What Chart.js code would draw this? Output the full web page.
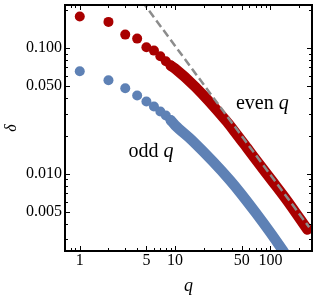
<!DOCTYPE html>
<html>
<head>
<meta charset="utf-8">
<script src="https://cdn.jsdelivr.net/npm/chart.js@4/dist/chart.umd.min.js"></script>
<style>
html,body{margin:0;padding:0;background:#fff;}
#wrap{width:317px;height:298px;position:relative;}
canvas{display:block;}
</style>
</head>
<body>
<div id="wrap"><canvas id="c" width="317" height="298"></canvas></div>
<script>
// ---- data ----
const qDots = [1, 2, 3, 4, 5, 6, 7, 8, 9];
const evenDots = [0.178, 0.161, 0.1276, 0.1186, 0.1013, 0.0952, 0.0859, 0.0784, 0.0724];
const oddDots = [0.0652, 0.0553, 0.0478, 0.0418, 0.0375, 0.0342, 0.0312, 0.0290, 0.0266];

const qEvenBand = [9, 10, 16.4, 34, 41, 57, 70, 104, 150, 244];
const evenBand = [0.0724, 0.0685, 0.0488, 0.0265, 0.0222, 0.0160, 0.0130, 0.0088, 0.0061, 0.0036];

const qOddBand = [9, 10, 15.2, 38, 70, 135, 160];
const oddBand = [0.0266, 0.0243, 0.0183, 0.0088, 0.0049, 0.00245, 0.0020];

const qGuide = [4.5, 255];
const guide = [0.2354, 0.00375];

const xMajor = [1, 5, 10, 50, 100];
const xLabels = ['1', '5', '10', '50', '100'];
const xMinor = [0.8, 0.9, 2, 3, 4, 6, 7, 8, 9, 20, 30, 40, 60, 70, 80, 90, 200];
const yMajor = [0.005, 0.01, 0.05, 0.1];
const yLabels = ['0.005', '0.010', '0.050', '0.100'];
const yMinor = [0.003, 0.004, 0.006, 0.007, 0.008, 0.009, 0.02, 0.03, 0.04, 0.06, 0.07, 0.08, 0.09, 0.2];

const xTitle = 'q';
const yTitle = 'δ';
const labelEven = ['even ', 'q'];
const labelOdd = ['odd ', 'q'];
const labelEvenAt = [43.5, 0.0328];
const labelOddAt = [3.25, 0.0137];

const RED = '#a90000';
const BLUE = '#5e81b5';
const SERIF = '"Liberation Serif", "DejaVu Serif", serif';

const pts = (xs, ys) => xs.map((x, i) => ({x: x, y: ys[i]}));

const framePlugin = {
  id: 'frame',
  afterDraw(chart) {
    const ctx = chart.ctx;
    const a = chart.chartArea;
    const xs = chart.scales.x, ys = chart.scales.y;
    ctx.save();
    ctx.strokeStyle = '#000';
    ctx.lineWidth = 1;
    const tick = (vals, len) => {
      vals.forEach(v => {
        const px = Math.round(xs.getPixelForValue(v)) + 0.5;
        ctx.beginPath();
        ctx.moveTo(px, a.bottom); ctx.lineTo(px, a.bottom - len);
        ctx.moveTo(px, a.top); ctx.lineTo(px, a.top + len);
        ctx.stroke();
      });
    };
    const tickY = (vals, len) => {
      vals.forEach(v => {
        const py = Math.round(ys.getPixelForValue(v)) + 0.5;
        ctx.beginPath();
        ctx.moveTo(a.left, py); ctx.lineTo(a.left + len, py);
        ctx.moveTo(a.right, py); ctx.lineTo(a.right - len, py);
        ctx.stroke();
      });
    };
    tick(xMajor, 5); tick(xMinor, 3);
    tickY(yMajor, 5); tickY(yMinor, 3);
    ctx.lineWidth = 2;
    ctx.strokeRect(a.left, a.top, a.right - a.left, a.bottom - a.top);

    // axis titles
    ctx.fillStyle = '#000';
    ctx.font = 'italic 18px ' + SERIF;
    ctx.textAlign = 'center';
    ctx.textBaseline = 'alphabetic';
    ctx.fillText(xTitle, (a.left + a.right) / 2, 291);
    ctx.save();
    ctx.translate(16, (a.top + a.bottom) / 2);
    ctx.rotate(-Math.PI / 2);
    ctx.font = 'italic 16px ' + SERIF;
    ctx.fillText(yTitle, 0, 0);
    ctx.restore();

    // in-plot labels
    const drawLabel = (parts, at) => {
      let x = xs.getPixelForValue(at[0]);
      const y = ys.getPixelForValue(at[1]);
      ctx.textAlign = 'left';
      ctx.font = '20px ' + SERIF;
      ctx.fillText(parts[0], x, y);
      x += ctx.measureText(parts[0]).width;
      ctx.font = 'italic 20px ' + SERIF;
      ctx.fillText(parts[1], x, y);
    };
    drawLabel(labelEven, labelEvenAt);
    drawLabel(labelOdd, labelOddAt);
    ctx.restore();
  }
};

new Chart(document.getElementById('c'), {
  type: 'scatter',
  data: {
    datasets: [
      {data: pts(qGuide, guide), showLine: true, borderColor: '#8c8c8c', borderWidth: 2.5,
       borderDash: [8, 4], pointRadius: 0, order: 0, clip: 0},
      {data: pts(qDots, evenDots), backgroundColor: RED, borderWidth: 0, pointRadius: 5,
       showLine: false, order: 2, clip: 0},
      {data: pts(qEvenBand, evenBand), showLine: true, borderColor: RED, borderWidth: 10.5,
       borderCapStyle: 'round', borderJoinStyle: 'round', cubicInterpolationMode: 'monotone',
       pointRadius: 0, order: 2, clip: 0},
      {data: pts(qDots, oddDots), backgroundColor: BLUE, borderWidth: 0, pointRadius: 5,
       showLine: false, order: 3, clip: 0},
      {data: pts(qOddBand, oddBand), showLine: true, borderColor: BLUE, borderWidth: 10.5,
       borderCapStyle: 'round', borderJoinStyle: 'round', cubicInterpolationMode: 'monotone',
       pointRadius: 0, order: 3, clip: 0}
    ]
  },
  options: {
    responsive: false,
    devicePixelRatio: 1,
    animation: false,
    events: [],
    layout: {padding: {left: 0, top: 4, right: 3, bottom: 0}},
    plugins: {legend: {display: false}, tooltip: {enabled: false}},
    scales: {
      x: {
        type: 'logarithmic', min: 0.70, max: 273,
        afterBuildTicks: s => { s.ticks = xMajor.map(v => ({value: v})); },
        afterFit: s => { s.height = 47; s.paddingLeft = 0; s.paddingRight = 0; },
        grid: {display: false, drawTicks: false},
        border: {display: false},
        ticks: {
          autoSkip: false, maxRotation: 0, padding: 0, color: '#000',
          font: {family: SERIF, size: 16},
          callback: v => { const i = xMajor.indexOf(v); return i >= 0 ? xLabels[i] : ''; }
        }
      },
      y: {
        type: 'logarithmic', min: 0.00243, max: 0.2194,
        afterBuildTicks: s => { s.ticks = yMajor.map(v => ({value: v})); },
        afterFit: s => { s.width = 65; s.paddingTop = 0; s.paddingBottom = 0; },
        grid: {display: false, drawTicks: false},
        border: {display: false},
        ticks: {
          autoSkip: false, padding: 3, color: '#000',
          font: {family: SERIF, size: 16},
          callback: v => { const i = yMajor.indexOf(v); return i >= 0 ? yLabels[i] : ''; }
        }
      }
    }
  },
  plugins: [framePlugin]
});
</script>
</body>
</html>
